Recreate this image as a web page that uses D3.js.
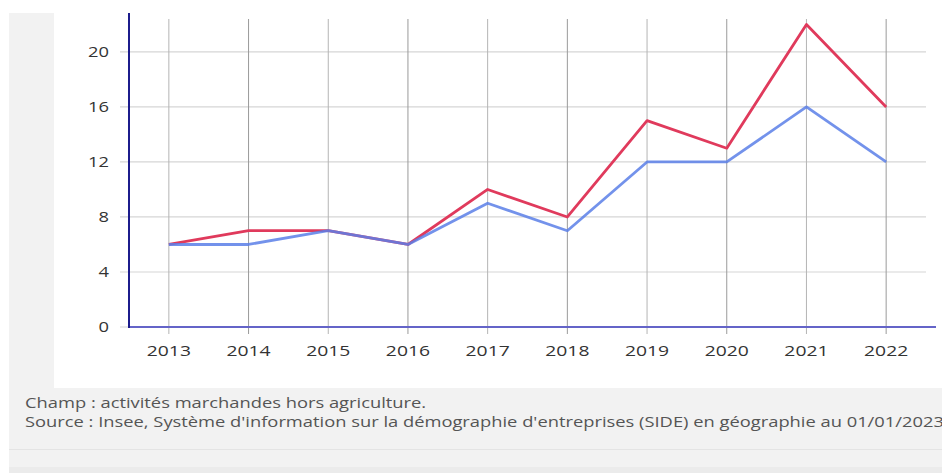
<!DOCTYPE html>
<html><head><meta charset="utf-8">
<script src="https://cdn.jsdelivr.net/npm/d3@7"></script>
<style>
html,body{margin:0;padding:0;background:#fff;}
svg{display:block;font-family:"Open Sans",sans-serif;}
</style></head>
<body>
<svg id="c" width="942" height="473"></svg>
<script>
const years = ["2013","2014","2015","2016","2017","2018","2019","2020","2021","2022"];
const seriesRed = [6,7,7,6,10,8,15,13,22,16];
const seriesBlue = [6,6,7,6,9,7,12,12,16,12];
const yTicks = [0,4,8,12,16,20];
const footerLines = ["Champ : activités marchandes hors agriculture.",
  "Source : Insee, Système d'information sur la démographie d'entreprises (SIDE) en géographie au 01/01/2023"];

(function(){
const svg = d3.select("#c");
svg.append("rect").attr("x",0).attr("y",0).attr("width",942).attr("height",473).attr("fill","#fff");
svg.append("rect").attr("x",9).attr("y",13).attr("width",933).attr("height",460).attr("fill","#f2f2f2");
svg.append("rect").attr("x",9).attr("y",449).attr("width",933).attr("height",1).attr("fill","#e4e4e4");
svg.append("rect").attr("x",9).attr("y",467).attr("width",933).attr("height",6).attr("fill","#ebebeb");
svg.append("rect").attr("x",54).attr("y",0).attr("width",888).attr("height",388).attr("fill","#fff");

const pLeft=129, pRight=926, pTop=13, pBottom=327;
const x = d3.scalePoint().domain(years).range([pLeft,pRight]).padding(0.5);
const y = d3.scaleLinear().domain([0,22.83]).range([pBottom,pTop]);

svg.append("g").selectAll("line").data(yTicks).join("line")
  .attr("x1",120).attr("x2",pRight).attr("y1",d=>y(d)).attr("y2",d=>y(d))
  .attr("stroke","#d6d6d6").attr("stroke-width",1.2);
svg.append("g").selectAll("line").data(years).join("line")
  .attr("x1",d=>x(d)).attr("x2",d=>x(d)).attr("y1",19).attr("y2",334)
  .attr("stroke",(d,i)=> i%2? "#9a9a9a":"#b4b4b4").attr("stroke-width",1);

svg.append("g").selectAll("text").data(yTicks).join("text")
  .attr("transform",d=>`translate(109,${y(d)}) scale(1.31,1)`)
  .attr("dy","0.36em").attr("text-anchor","end")
  .attr("font-size",14).attr("fill","#333").text(d=>d);
svg.append("g").selectAll("text").data(years).join("text")
  .attr("transform",d=>`translate(${x(d)},356) scale(1.38,1)`)
  .attr("text-anchor","middle")
  .attr("font-size",14).attr("fill","#333").text(d=>d);

svg.append("line").attr("x1",pLeft).attr("x2",936).attr("y1",pBottom).attr("y2",pBottom)
  .attr("stroke","#6464c8").attr("stroke-width",2);
svg.append("line").attr("x1",pLeft).attr("x2",pLeft).attr("y1",pTop).attr("y2",pBottom+1)
  .attr("stroke","#1c1c8c").attr("stroke-width",2);

const line = d3.line().x((d,i)=>x(years[i])).y(d=>y(d));
svg.append("path").datum(seriesRed).attr("d",line).attr("fill","none")
  .attr("stroke","#e03a5c").attr("stroke-width",2.8).attr("stroke-linejoin","round");
svg.append("path").datum(seriesBlue).attr("d",line).attr("fill","none")
  .attr("stroke","#5b7fe8").attr("stroke-opacity",0.85).attr("stroke-width",2.8).attr("stroke-linejoin","round");

svg.append("g").selectAll("text").data(footerLines).join("text")
  .attr("transform",(d,i)=>`translate(25,${408+i*19}) scale(1.31,1)`)
  .attr("font-size",14).attr("fill","#555").text(d=>d);
})();
</script>
</body></html>
